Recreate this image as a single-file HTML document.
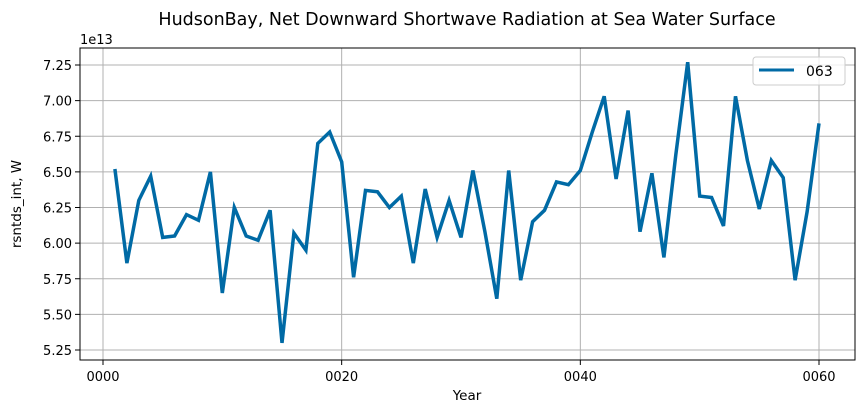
<!DOCTYPE html>
<html><head><meta charset="utf-8"><style>
body{margin:0;background:#fff;}
svg text{font-family:"DejaVu Sans","Liberation Sans",sans-serif;fill:#000;}
</style></head><body>
<svg id="chart" width="863" height="412" viewBox="0 0 863 412" xmlns="http://www.w3.org/2000/svg">
<rect x="0" y="0" width="863" height="412" fill="#fff"/>
<text x="467" y="25" font-size="17.5" text-anchor="middle">HudsonBay, Net Downward Shortwave Radiation at Sea Water Surface</text>
<g id="grid"></g>
<g id="ticks"></g>
<text x="80" y="44" font-size="13">1e13</text>
<text x="467" y="400" font-size="13.5" text-anchor="middle">Year</text>
<text transform="translate(21,204) rotate(-90)" font-size="13.5" text-anchor="middle">rsntds_int, W</text>
<g id="series"></g>
<rect x="80" y="48" width="775" height="312" fill="none" stroke="#000" stroke-width="1"/>
<g>
<rect x="753" y="57" width="92" height="28" rx="3" fill="#fff" fill-opacity="0.8" stroke="#ccc"/>
<line x1="759" y1="70" x2="794" y2="70" stroke="#006aa5" stroke-width="3"/>
<text x="806" y="76" font-size="14">063</text>
</g>
</svg>
<script>
const years=[];for(let i=1;i<=60;i++)years.push(i);
const values=[6.52,5.86,6.30,6.47,6.04,6.05,6.20,6.16,6.50,5.65,6.25,6.05,6.02,6.23,5.30,6.07,5.95,6.70,6.78,6.57,5.76,6.37,6.36,6.25,6.33,5.86,6.38,6.04,6.30,6.04,6.51,6.08,5.61,6.51,5.74,6.15,6.23,6.43,6.41,6.51,6.78,7.03,6.45,6.93,6.08,6.49,5.90,6.62,7.27,6.33,6.32,6.12,7.03,6.58,6.24,6.58,6.46,5.74,6.22,6.84];
const xTicks=[0,20,40,60];
const xTickLabels=["0000","0020","0040","0060"];
const yTicks=[5.25,5.5,5.75,6.0,6.25,6.5,6.75,7.0,7.25];
const yTickLabels=["5.25","5.50","5.75","6.00","6.25","6.50","6.75","7.00","7.25"];
const NS="http://www.w3.org/2000/svg";
const X=v=>103+v*(819-103)/60;
const Y=v=>350-(v-5.25)*(350-65)/2;
const grid=document.getElementById('grid'),ticks=document.getElementById('ticks'),series=document.getElementById('series');
function mk(tag,attrs,parent){const e=document.createElementNS(NS,tag);for(const k in attrs)e.setAttribute(k,attrs[k]);parent.appendChild(e);return e;}
xTicks.forEach((t,i)=>{
 const g=mk('line',{x1:X(t),x2:X(t),y1:48,y2:360,stroke:'#b0b0b0','stroke-width':1},grid);
 
 
 mk('line',{x1:X(t),x2:X(t),y1:360,y2:365,stroke:'#000'},ticks);
 const tx=mk('text',{x:X(t),y:381,'font-size':13,'text-anchor':'middle'},ticks);
 tx.textContent=xTickLabels[i];
 
 
});
yTicks.forEach((t,i)=>{
 const g=mk('line',{x1:80,x2:855,y1:Y(t),y2:Y(t),stroke:'#b0b0b0','stroke-width':1},grid);
 
 
 mk('line',{x1:75,x2:80,y1:Y(t),y2:Y(t),stroke:'#000'},ticks);
 const tx=mk('text',{x:72,y:Y(t)+5,'font-size':13,'text-anchor':'end'},ticks);
 tx.textContent=yTickLabels[i];
 
 
});
const pts=years.map((y,i)=>X(y).toFixed(1)+','+Y(values[i]).toFixed(1)).join(' ');
const line=mk('polyline',{points:pts,fill:'none',stroke:'#006aa5','stroke-width':3.5,'stroke-linejoin':'miter'},series);


</script>
</body></html>
